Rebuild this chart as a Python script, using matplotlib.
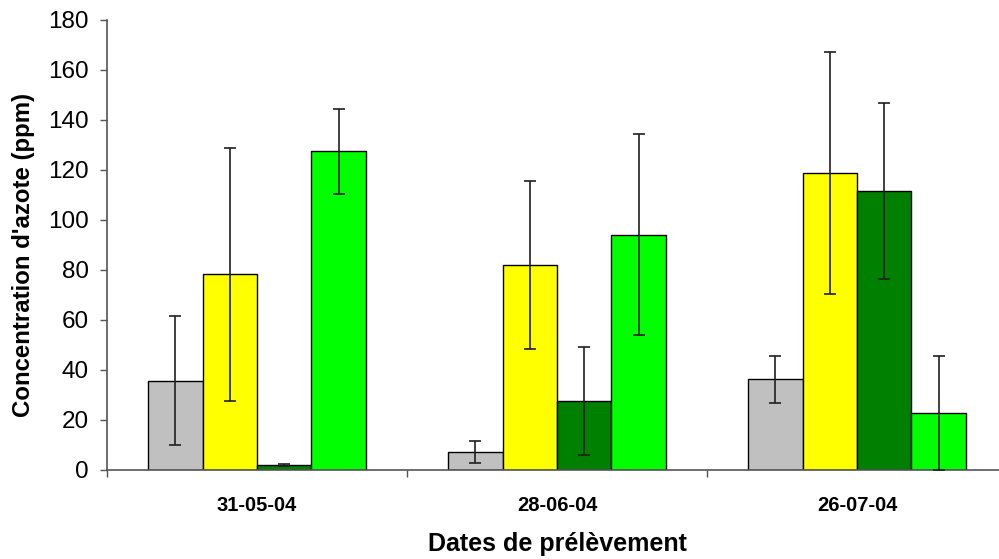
import numpy as np
import matplotlib
matplotlib.use("Agg")
import matplotlib.pyplot as plt

plt.rcParams['font.family'] = ['Liberation Sans', 'DejaVu Sans']

dates = ["31-05-04", "28-06-04", "26-07-04"]
gris = [35.5, 6.9, 36.1]
gris_err = [25.8, 4.4, 9.3]
jaune = [78.1, 81.9, 118.7]
jaune_err = [50.8, 33.8, 48.3]
vert_fonce = [1.9, 27.3, 111.5]
vert_fonce_err = [0.3, 21.6, 35.3]
vert = [127.5, 94.1, 22.5]
vert_err = [17.0, 40.1, 22.8]

series = [gris, jaune, vert_fonce, vert]
errors = [gris_err, jaune_err, vert_fonce_err, vert_err]
colors = ["#C0C0C0", "#FFFF00", "#008000", "#00FF00"]

fig = plt.figure(figsize=(9.99, 5.59), dpi=100)
ax = fig.add_axes([107 / 999, 89.5 / 559, 900 / 999, 449.5 / 559])

x = np.arange(len(dates))
w = 0.1815
for k, (vals, errs, c) in enumerate(zip(series, errors, colors)):
    pos = x + (k - 1.5) * w
    ax.bar(pos, vals, width=w, color=c, edgecolor="black", linewidth=1.0, zorder=2)
    ax.errorbar(pos, vals, yerr=errs, fmt="none", ecolor="#202020",
                elinewidth=1.2, capsize=4.5, capthick=1.2, zorder=3)

ax.set_xlim(-0.5, 2.5)
ax.set_ylim(0, 180)
ax.set_yticks(np.arange(0, 181, 20))
ax.tick_params(axis="y", direction="out", length=5, width=1, color="#555555",
               labelsize=17.5, pad=8)

# separators between groups as ticks, date labels centered without tick marks
ax.set_xticks([-0.5, 0.5, 1.5, 2.5])
ax.set_xticklabels([])
ax.tick_params(axis="x", which="major", direction="out", length=5, width=1, color="#555555")
ax.set_xticks(x, minor=True)
ax.set_xticklabels(dates, minor=True, fontsize=14.5, fontweight="bold")
ax.tick_params(axis="x", which="minor", length=0, pad=19)

for s in ["top", "right"]:
    ax.spines[s].set_visible(False)
for s in ["left", "bottom"]:
    ax.spines[s].set_color("#555555")
    ax.spines[s].set_linewidth(1.2)

ax.set_xlabel("Dates de prélèvement", fontsize=18, fontweight="bold", labelpad=12)
ax.set_ylabel("Concentration d'azote (ppm)", fontsize=17.3, fontweight="bold")
ax.yaxis.set_label_coords(-0.080, 0.478)

fig.savefig("out.png", dpi=100)
